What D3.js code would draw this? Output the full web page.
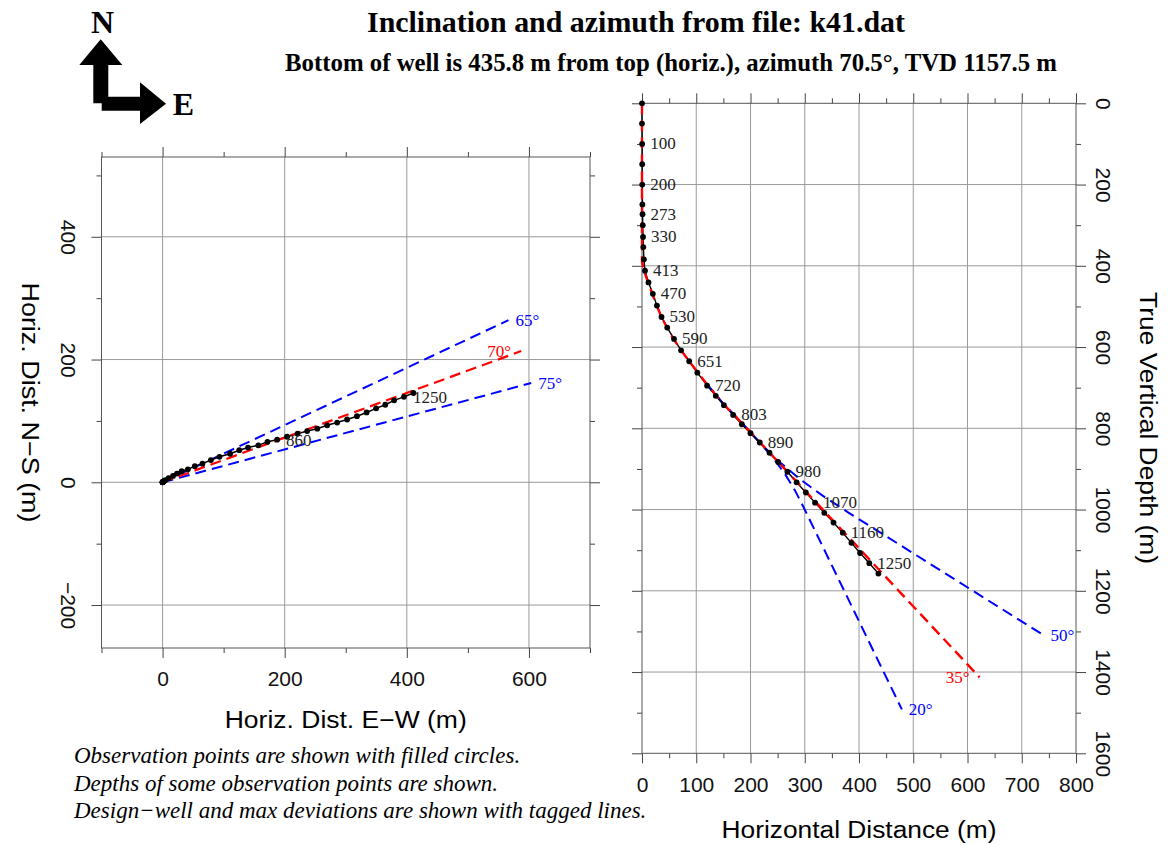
<!DOCTYPE html>
<html>
<head>
<meta charset="utf-8">
<script src="https://cdn.jsdelivr.net/npm/d3@7"></script>
<style>
  body { margin: 0; background: #fff; }
</style>
</head>
<body>
<svg id="chart" width="1170" height="845"></svg>
<script>
// ---- survey stations of well k41 ----
const measuredDepth = [0, 50, 100, 150, 200, 250, 273, 300, 330, 355, 385, 413, 442, 470, 500, 530, 560, 590, 620, 651,
  685, 720, 748, 775, 803, 832, 860, 890, 920, 950, 980, 1010, 1040, 1070, 1100, 1130, 1160, 1190, 1220, 1250, 1281];
const horizDist = [0, 0, 0.3, 0.4, 0.4, 0.7, 1.0, 1.4, 1.9, 2.5, 3.5, 5.5, 12, 20, 27.5, 36, 46.5, 59, 72, 87,
  102, 120, 136, 151, 168, 184, 200, 217, 235, 251, 268, 285, 302, 319, 336, 353, 370, 386, 402, 419, 435.8];
const trueVertDepth = [0, 50, 100, 150, 200, 249, 273, 300, 329, 354, 384, 412, 441, 469, 498, 526, 552, 580, 608, 635,
  663, 695, 720, 743, 767, 790, 812, 835, 860, 883, 907, 933, 958, 983, 1008, 1032, 1057, 1082, 1107, 1132, 1157.5];
const eastDist = [0, 0, 0.1, 0.2, 0.3, 0.5, 0.7, 1.0, 1.4, 1.9, 2.7, 4.4, 9.9, 17.1, 23.6, 31.2, 41.4, 52.8, 65.3, 79.1,
  93.2, 110.6, 125.6, 140.0, 156.8, 171.8, 187.6, 203.9, 221.2, 236.8, 253.4, 269.5, 285.9, 302.2, 318.3, 334.1, 349.8, 364.7, 379.2, 395.3, 410.8];
const northDist = [0, 0, 0.3, 0.3, 0.3, 0.5, 0.7, 1.0, 1.3, 1.6, 2.4, 3.3, 6.7, 10.3, 14.2, 18.0, 21.1, 26.3, 30.4, 36.2,
  41.5, 46.5, 52.3, 56.6, 60.2, 65.9, 69.4, 74.2, 79.2, 83.4, 87.3, 92.8, 97.3, 102.3, 107.7, 113.8, 120.5, 126.3, 133.5, 139.2, 145.5];

// depths written next to stations
const sectionTags = [100, 200, 273, 330, 413, 470, 530, 590, 651, 720, 803, 890, 980, 1070, 1160, 1250];
const planTags = [860, 1250];

// plan view: design azimuth and max deviations
const planAzimuths = [65, 70, 75];
const planIsDesign = [false, true, false];
const planLength = 625;

// vertical section: design well and max deviations (curved part, then tangent)
const designCurve = [[0, 0], [0, 390], [4, 413], [11, 441], [19, 469], [27, 498], [36, 526], [46, 552], [58, 580],
  [72, 608], [87, 635], [103, 663], [120, 692], [136, 718], [152, 743], [170, 767]];
const lowCurve = [[120, 692], [136, 718], [152, 743], [170, 767], [193, 800], [217, 835], [242.8, 874.5],
  [264.3, 914], [282.2, 953.5], [297.4, 993]];
const highCurve = [[120, 692], [136, 718], [152, 743], [170, 767], [193, 800], [217, 835], [249.6, 878.4],
  [287.9, 921.8], [332.2, 965.2], [381.9, 1008.6]];
const sectionInclinations = [20, 35, 50];
const sectionEndTvd = [1492, 1413, 1309];
const sectionIsDesign = [false, true, false];

// axis ticks
const planXMajor = [0, 200, 400, 600], planXMinor = [-100, 100, 300, 500, 700];
const planYMajor = [-200, 0, 200, 400], planYMinor = [-100, 100, 300, 500];
const secXMajor = [0, 100, 200, 300, 400, 500, 600, 700, 800], secXMinor = [50, 150, 250, 350, 450, 550, 650, 750];
const secYMajor = [0, 200, 400, 600, 800, 1000, 1200, 1400, 1600], secYMinor = [100, 300, 500, 700, 900, 1100, 1300, 1500];
const secXGrid = [100, 200, 300, 400, 500, 600, 700];
const secYGrid = [200, 400, 600, 800, 1000, 1200, 1400];

const svg = d3.select("#chart");
const SANS = "'Liberation Sans', Arial, sans-serif";
const SERIF = "'Liberation Serif', 'Times New Roman', serif";
const BLUE = "#0000ff", RED = "#ff0000";
const DASH = "11,6";
const rad = d => d * Math.PI / 180;

// ---------- titles ----------
svg.append("text").attr("x", 636).attr("y", 32).attr("text-anchor", "middle")
  .attr("font-family", SERIF).attr("font-weight", "bold").attr("font-size", 30)
  .attr("textLength", 538).attr("lengthAdjust", "spacingAndGlyphs")
  .text("Inclination and azimuth from file: k41.dat");
svg.append("text").attr("x", 671).attr("y", 71).attr("text-anchor", "middle")
  .attr("font-family", SERIF).attr("font-weight", "bold").attr("font-size", 24.5)
  .attr("textLength", 772).attr("lengthAdjust", "spacingAndGlyphs")
  .text("Bottom of well is 435.8 m from top (horiz.), azimuth 70.5\u00b0, TVD 1157.5 m");

// ---------- north/east compass ----------
const compass = svg.append("g");
compass.append("path").attr("fill", "#000")
  .attr("d", "M93.3,103.3 L93.3,65 L79.3,65 L100.7,39.3 L122.3,65 L108.3,65 L108.3,103.3 Z");
compass.append("path").attr("fill", "#000")
  .attr("d", "M101.7,96.7 L140,96.7 L140,82.3 L166,103.7 L140,124 L140,110.7 L101.7,110.7 Z");
compass.append("text").attr("x", 102.5).attr("y", 33.3).attr("text-anchor", "middle")
  .attr("font-family", SERIF).attr("font-weight", "bold").attr("font-size", 32).text("N");
compass.append("text").attr("x", 172.7).attr("y", 115).attr("font-family", SERIF)
  .attr("font-weight", "bold").attr("font-size", 32).text("E");

// ---------- shared helpers ----------
function frameAxes(g, x, y, xMaj, xMin, yMaj, yMin, opt) {
  const xl = Math.min(...x.range()), xr = Math.max(...x.range());
  const yb = Math.max(...y.range()), yt = Math.min(...y.range());
  const sides = [
    ["bottom", () => d3.axisBottom(x), `translate(0,${yb})`, xMaj, xMin, opt.bottomLabels],
    ["top", () => d3.axisTop(x), `translate(0,${yt})`, xMaj, xMin, false],
    ["left", () => d3.axisLeft(y), `translate(${xl},0)`, yMaj, yMin, opt.leftLabels],
    ["right", () => d3.axisRight(y), `translate(${xr},0)`, yMaj, yMin, opt.rightLabels]
  ];
  sides.forEach(([side, mkAxis, tr, maj, min, lab]) => {
    const gMin = g.append("g").attr("transform", tr)
      .call(mkAxis().tickValues(min).tickSize(5).tickSizeOuter(0).tickFormat(""));
    const gMaj = g.append("g").attr("transform", tr)
      .call(mkAxis().tickValues(maj).tickSize(10).tickSizeOuter(0).tickFormat(lab ? d3.format("d") : ""));
    [gMin, gMaj].forEach(a => {
      a.select(".domain").remove();
      a.selectAll(".tick line").attr("stroke", "#444").attr("stroke-width", 1);
    });
    const t = gMaj.selectAll(".tick text").attr("font-family", SANS).attr("font-size", 21).attr("fill", "#111");
    if (!lab) { t.remove(); return; }
    if (side === "bottom") {
      t.attr("y", opt.bottomOffset).attr("dy", "0.36em");
    } else {
      const off = side === "left" ? -opt.sideOffset : opt.sideOffset;
      t.attr("x", 0).attr("y", 0).attr("dy", null).attr("text-anchor", "middle")
        .attr("dominant-baseline", "central")
        .attr("transform", `translate(${off},0) rotate(90)`);
    }
  });
  g.append("rect").attr("x", xl).attr("y", yt).attr("width", xr - xl).attr("height", yb - yt)
    .attr("fill", "none").attr("stroke", "#555").attr("stroke-width", 1);
}

function addTag(g, px, py, text, color, design) {
  g.append("text")
    .attr("x", design ? px - 10 : px + 7).attr("y", py)
    .attr("text-anchor", design ? "end" : "start").attr("dominant-baseline", "central")
    .attr("font-family", SERIF).attr("font-size", 17).attr("fill", color).text(text);
}

function gridLines(g, x, y, xs, ys) {
  const [xl, xr] = [Math.min(...x.range()), Math.max(...x.range())];
  const [yt, yb] = [Math.min(...y.range()), Math.max(...y.range())];
  g.append("g").selectAll("line").data(xs).join("line")
    .attr("x1", d => x(d)).attr("x2", d => x(d)).attr("y1", yb).attr("y2", yt)
    .attr("stroke", "#9a9a9a").attr("stroke-width", 1);
  g.append("g").selectAll("line").data(ys).join("line")
    .attr("y1", d => y(d)).attr("y2", d => y(d)).attr("x1", xl).attr("x2", xr)
    .attr("stroke", "#9a9a9a").attr("stroke-width", 1);
}

function axisTitle(x, y, text, len, vertical) {
  svg.append("text")
    .attr("transform", vertical ? `translate(${x},${y}) rotate(90)` : `translate(${x},${y})`)
    .attr("text-anchor", "middle").attr("dominant-baseline", vertical ? "central" : null)
    .attr("font-family", SANS).attr("font-size", 23.5)
    .attr("textLength", len).attr("lengthAdjust", "spacingAndGlyphs").text(text);
}

const stations = d3.range(measuredDepth.length);

// ---------- plan view (left) ----------
{
  const x = d3.scaleLinear().domain([-100, 700]).range([101.5, 590]);
  const y = d3.scaleLinear().domain([-270, 530]).range([648, 157]);
  const g = svg.append("g");

  gridLines(g, x, y, planXMajor, planYMajor);
  frameAxes(g, x, y, planXMajor, planXMinor, planYMajor, planYMinor,
    { bottomLabels: true, leftLabels: true, rightLabels: false, bottomOffset: 30, sideOffset: 33 });

  const planEnd = az => [planLength * Math.sin(rad(az)), planLength * Math.cos(rad(az))];

  // max deviation azimuths
  planAzimuths.forEach((az, i) => {
    if (planIsDesign[i]) return;
    const [ex, ny] = planEnd(az);
    g.append("line").attr("x1", x(0)).attr("y1", y(0)).attr("x2", x(ex)).attr("y2", y(ny))
      .attr("stroke", BLUE).attr("stroke-width", 2).attr("stroke-dasharray", DASH);
  });

  const well = d3.line().x(i => x(eastDist[i])).y(i => y(northDist[i]));
  g.append("path").attr("d", well(stations)).attr("fill", "none").attr("stroke", "#000").attr("stroke-width", 1.5);

  // design azimuth
  planAzimuths.forEach((az, i) => {
    if (!planIsDesign[i]) return;
    const [ex, ny] = planEnd(az);
    g.append("line").attr("x1", x(0)).attr("y1", y(0)).attr("x2", x(ex)).attr("y2", y(ny))
      .attr("stroke", RED).attr("stroke-width", 2.2).attr("stroke-dasharray", DASH);
  });

  g.append("g").selectAll("circle").data(stations).join("circle")
    .attr("cx", i => x(eastDist[i])).attr("cy", i => y(northDist[i])).attr("r", 2.9).attr("fill", "#000");

  planTags.forEach(md => {
    const i = measuredDepth.indexOf(md);
    g.append("text").attr("x", x(eastDist[i]) + 9).attr("y", y(northDist[i]) + 1)
      .attr("dominant-baseline", "central").attr("font-family", SERIF).attr("font-size", 17)
      .attr("fill", "#222").text(md);
  });

  planAzimuths.forEach((az, i) => {
    const [ex, ny] = planEnd(az);
    addTag(g, x(ex), y(ny), az + "\u00b0", planIsDesign[i] ? RED : BLUE, planIsDesign[i]);
  });

  axisTitle((x.range()[0] + x.range()[1]) / 2, 728, "Horiz. Dist. E\u2212W (m)", 242, false);
  axisTitle(30, (y.range()[0] + y.range()[1]) / 2, "Horiz. Dist. N\u2212S (m)", 240, true);
}

// ---------- vertical section (right) ----------
{
  const x = d3.scaleLinear().domain([0, 800]).range([642, 1076]);
  const y = d3.scaleLinear().domain([0, 1600]).range([103.3, 753.3]);
  const g = svg.append("g");

  gridLines(g, x, y, secXGrid, secYGrid);
  frameAxes(g, x, y, secXMajor, secXMinor, secYMajor, secYMinor,
    { bottomLabels: true, leftLabels: false, rightLabels: true, bottomOffset: 31, sideOffset: 27 });

  const path = d3.line().x(d => x(d[0])).y(d => y(d[1]));
  const withTangent = (curve, k) => {
    const last = curve[curve.length - 1];
    const endTvd = sectionEndTvd[k];
    const endHd = last[0] + Math.tan(rad(sectionInclinations[k])) * (endTvd - last[1]);
    return curve.concat([[endHd, endTvd]]);
  };
  const sectionCurves = [lowCurve, designCurve, highCurve].map(withTangent);

  sectionCurves.forEach((c, k) => {
    if (sectionIsDesign[k]) return;
    g.append("path").attr("d", path(c)).attr("fill", "none").attr("stroke", BLUE)
      .attr("stroke-width", 2).attr("stroke-dasharray", DASH);
  });

  const well = d3.line().x(i => x(horizDist[i])).y(i => y(trueVertDepth[i]));
  g.append("path").attr("d", well(stations)).attr("fill", "none").attr("stroke", "#000").attr("stroke-width", 1.4);

  sectionCurves.forEach((c, k) => {
    if (!sectionIsDesign[k]) return;
    g.append("path").attr("d", path(c)).attr("fill", "none").attr("stroke", RED)
      .attr("stroke-width", 2.4).attr("stroke-dasharray", DASH);
  });

  g.append("g").selectAll("circle").data(stations).join("circle")
    .attr("cx", i => x(horizDist[i])).attr("cy", i => y(trueVertDepth[i])).attr("r", 2.9).attr("fill", "#000");

  sectionTags.forEach(md => {
    const i = measuredDepth.indexOf(md);
    g.append("text").attr("x", x(horizDist[i]) + 8).attr("y", y(trueVertDepth[i]))
      .attr("dominant-baseline", "central").attr("font-family", SERIF).attr("font-size", 17)
      .attr("fill", "#222").text(md);
  });

  sectionCurves.forEach((c, k) => {
    const e = c[c.length - 1];
    addTag(g, x(e[0]), y(e[1]), sectionInclinations[k] + "\u00b0", sectionIsDesign[k] ? RED : BLUE, sectionIsDesign[k]);
  });

  axisTitle(859, 838, "Horizontal Distance (m)", 275, false);
  axisTitle(1148, 428, "True Vertical Depth (m)", 272, true);
}

// ---------- notes ----------
const notes = [
  "Observation points are shown with filled circles.",
  "Depths of some observation points are shown.",
  "Design\u2212well and max deviations are shown with tagged lines."
];
svg.append("g").selectAll("text").data(notes).join("text")
  .attr("x", 74).attr("y", (d, i) => 763 + i * 27.5)
  .attr("font-family", SERIF).attr("font-style", "italic").attr("font-size", 23).text(d => d);
</script>
</body>
</html>
